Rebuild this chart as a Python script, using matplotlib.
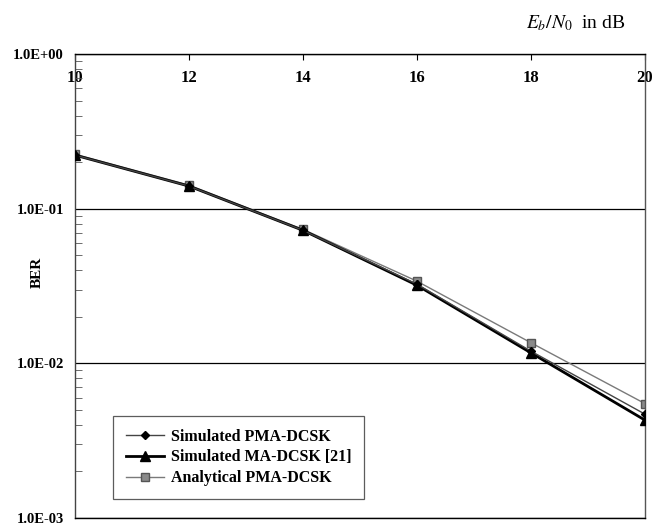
import matplotlib
matplotlib.use("Agg")
import matplotlib.pyplot as plt
from matplotlib.ticker import FuncFormatter, LogLocator, NullFormatter

# Eb/N0 (dB) and BER values
ebn0 = [10, 12, 14, 16, 18, 20]
ber_pma_sim = [0.222, 0.140, 0.0725, 0.0325, 0.0120, 0.0047]
ber_ma_sim = [0.222, 0.140, 0.0725, 0.0320, 0.0117, 0.0043]
ber_pma_analytic = [0.225, 0.142, 0.0735, 0.0340, 0.0136, 0.0055]
labels = ["Simulated PMA-DCSK", "Simulated MA-DCSK [21]", "Analytical PMA-DCSK"]

plt.rcParams['font.family'] = ['Liberation Serif', 'DejaVu Serif']
plt.rcParams['mathtext.fontset'] = 'stix'

fig = plt.figure(figsize=(6.58, 5.27), dpi=100)
ax = fig.add_axes([0.114, 0.017, 0.866, 0.8805])

ax.plot(ebn0, ber_pma_analytic, color='#7a7a7a', lw=1.0, marker='s', ms=6,
        mfc='#8a8a8a', mec='#555555', label=labels[2], zorder=2)
ax.plot(ebn0, ber_ma_sim, color='black', lw=2.0, marker='^', ms=7,
        mfc='black', mec='black', label=labels[1], zorder=3)
ax.plot(ebn0, ber_pma_sim, color='#444444', lw=1.0, marker='D', ms=4,
        mfc='black', mec='black', label=labels[0], zorder=4)

ax.set_yscale('log')
ax.set_ylim(1e-3, 1)
ax.set_xlim(10, 20)
ax.set_xticks(ebn0)

ax.yaxis.set_major_locator(LogLocator(base=10))
ax.yaxis.set_minor_locator(LogLocator(base=10, subs=range(2, 10)))
ax.yaxis.set_major_formatter(FuncFormatter(lambda v, p: "%.1E" % v))
ax.yaxis.set_minor_formatter(NullFormatter())
ax.grid(axis='y', which='major', color='black', lw=0.9)

ax.xaxis.tick_top()
ax.tick_params(axis='x', which='major', direction='in', length=4, pad=-23,
               labelsize=12)
ax.tick_params(axis='y', which='major', direction='in', length=0, pad=8,
               labelsize=10.5)
ax.tick_params(axis='y', which='minor', direction='in', length=5, color='#555555')
for t in ax.get_xticklabels() + ax.get_yticklabels():
    t.set_fontweight('bold')

for s in ax.spines.values():
    s.set_linewidth(1.0)
ax.spines['left'].set_color('#444444')
ax.spines['right'].set_color('#555555')

ax.set_ylabel('BER', fontsize=11, fontweight='bold')
ax.yaxis.set_label_coords(-0.055, 0.53)
fig.text(0.95, 0.957, r'$E_b/N_0$  in dB', fontsize=14, ha='right', va='center')

h, l = ax.get_legend_handles_labels()
order = [2, 1, 0]
leg = ax.legend([h[i] for i in order], [l[i] for i in order],
                loc='lower left', bbox_to_anchor=(0.0667, 0.041), borderaxespad=0,
                fontsize=11.5, frameon=True, fancybox=False, handlelength=2.4,
                borderpad=0.8, labelspacing=0.3, handletextpad=0.4)
leg.get_frame().set_edgecolor('#333333')
leg.get_frame().set_linewidth(0.9)
for t in leg.get_texts():
    t.set_fontweight('bold')

fig.savefig('out.png', dpi=100)
